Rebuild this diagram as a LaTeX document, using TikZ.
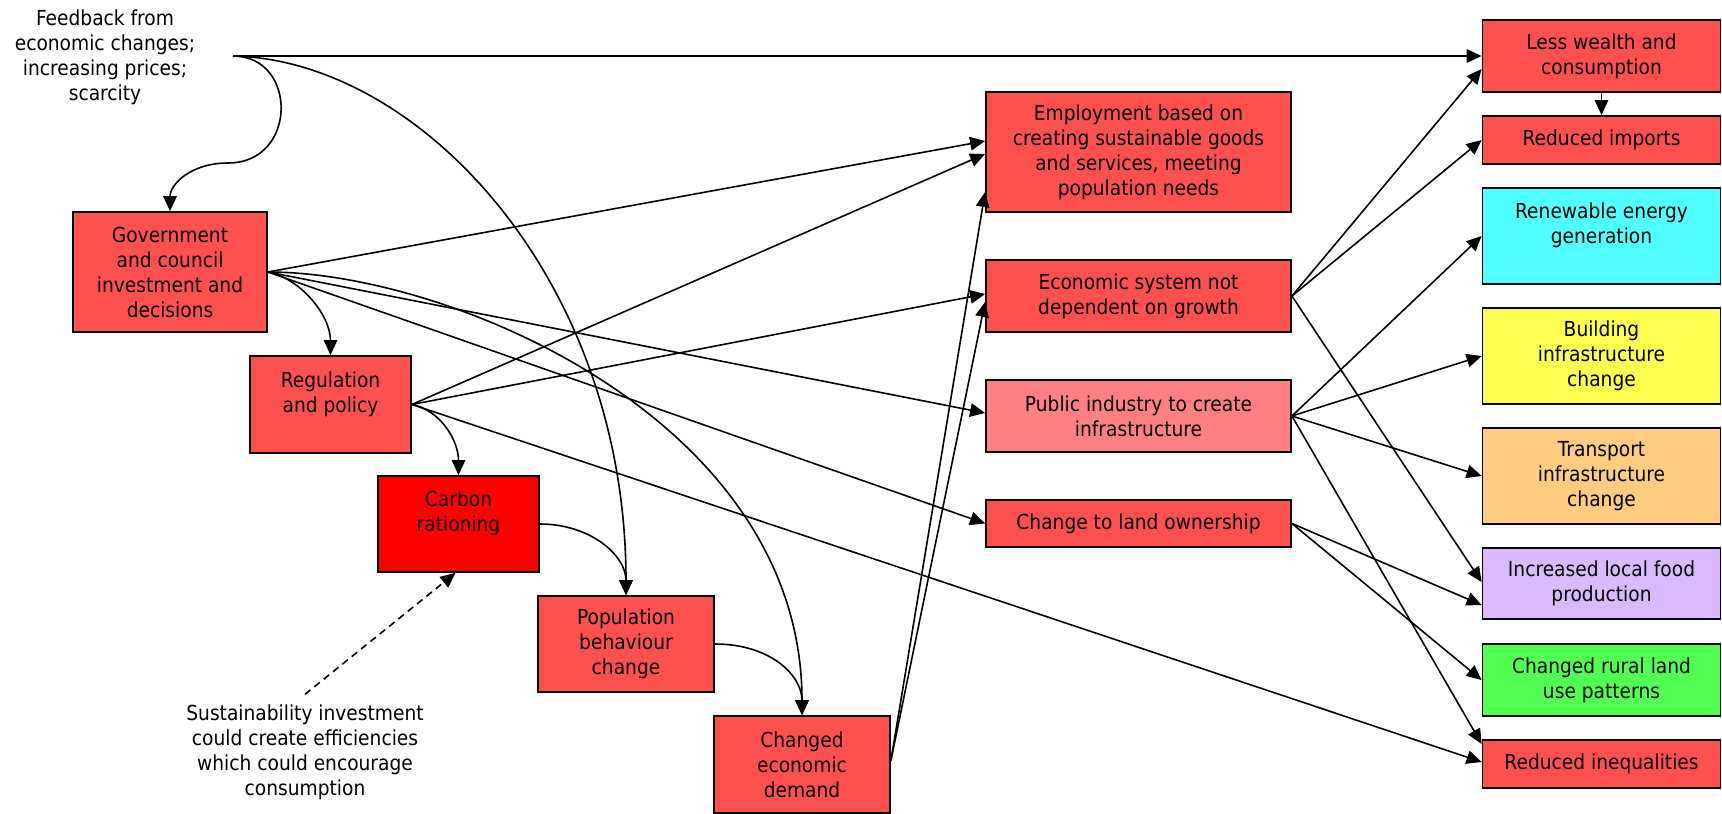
\documentclass[tikz,border=0pt]{standalone}
\usepackage{fontspec}
\setmainfont{DejaVu Sans}[FakeStretch=0.9]
\usetikzlibrary{arrows.meta}
\definecolor{cred}{RGB}{255,80,80}
\definecolor{cdark}{RGB}{255,0,0}
\definecolor{cpink}{RGB}{255,128,128}
\definecolor{ccyan}{RGB}{80,255,255}
\definecolor{cyel}{RGB}{255,255,80}
\definecolor{corange}{RGB}{255,204,128}
\definecolor{cpurple}{RGB}{218,185,255}
\definecolor{cgreen}{RGB}{80,255,80}
\begin{document}
\begin{tikzpicture}[x=1pt,y=-1pt,
  box/.style={draw=black, line width=1.8pt, rectangle, align=center, inner sep=2pt,
    font=\fontsize{20.7}{25}\selectfont},
  txt/.style={align=center, inner sep=2pt, font=\fontsize{20.7}{25}\selectfont},
  arr/.style={line width=1.6pt, -{Triangle[length=15pt,width=13.5pt]}},
  dsh/.style={line width=1.6pt, dash pattern=on 7pt off 5pt, -{Triangle[length=15pt,width=13.5pt]}}]
\useasboundingbox (0,0) rectangle (1722,814);
% left text
\node[txt] (fb) at (105,57.5) {Feedback from\\economic changes;\\increasing prices;\\scarcity};
\coordinate (fbout) at (233,56);
\node[txt] (sust) at (305,752) {Sustainability investment\\could create efficiencies\\which could encourage\\consumption};
% left chain
\node[box, fill=cred, minimum width=194pt, minimum height=120pt] (gov) at (170,272) {Government\\and council\\investment and\\decisions};
\node[box, fill=cred, minimum width=161pt, minimum height=97pt] (reg) at (330.5,404.5) {Regulation\\and policy\\\mbox{}};
\node[box, fill=cdark, minimum width=161pt, minimum height=96pt] (carbon) at (458.5,524) {Carbon\\rationing\\\mbox{}};
\node[box, fill=cred, minimum width=176pt, minimum height=96pt] (pop) at (626,644) {Population\\behaviour\\change};
\node[box, fill=cred, minimum width=176pt, minimum height=97pt] (ced) at (802,764.5) {Changed\\economic\\demand};
% middle column
\node[box, fill=cred, minimum width=305pt, minimum height=120pt] (emp) at (1138.5,152) {Employment based on\\creating sustainable goods\\and services, meeting\\population needs};
\node[box, fill=cred, minimum width=305pt, minimum height=72pt] (econ) at (1138.5,296) {Economic system not\\dependent on growth};
\node[box, fill=cpink, minimum width=305pt, minimum height=72pt] (pub) at (1138.5,416) {Public industry to create\\infrastructure};
\node[box, fill=cred, minimum width=305pt, minimum height=47pt] (land) at (1138.5,523.5) {Change to land ownership};
% right column
\node[box, fill=cred, minimum width=238pt, minimum height=72pt] (lw) at (1601.5,56) {Less wealth and\\consumption};
\node[box, fill=cred, minimum width=238pt, minimum height=48pt] (ri) at (1601.5,140) {Reduced imports};
\node[box, fill=ccyan, minimum width=238pt, minimum height=96pt] (ren) at (1601.5,236) {Renewable energy\\generation\\\mbox{}};
\node[box, fill=cyel, minimum width=238pt, minimum height=96pt] (bld) at (1601.5,356) {Building\\infrastructure\\change};
\node[box, fill=corange, minimum width=238pt, minimum height=96pt] (trn) at (1601.5,476) {Transport\\infrastructure\\change};
\node[box, fill=cpurple, minimum width=238pt, minimum height=71pt] (food) at (1601.5,583.5) {Increased local food\\production};
\node[box, fill=cgreen, minimum width=238pt, minimum height=72pt] (rural) at (1601.5,680) {Changed rural land\\use patterns};
\node[box, fill=cred, minimum width=238pt, minimum height=48pt] (ineq) at (1601.5,764) {Reduced inequalities};
% connectors
\draw[arr] (fbout) -- (lw.west);
\draw[arr] (fbout) .. controls (298,56) and (298,163) .. (228,163) .. controls (190,163) and (170,185) .. (gov.north);
\draw[arr] (fbout) .. controls (420,60) and (626,280) .. (pop.north);
\draw[arr] (gov.east) -- ([yshift=11pt]emp.west);
\draw[arr] (gov.east) .. controls (300,278) and (330.5,315) .. (reg.north);
\draw[arr] (gov.east) .. controls (450,272) and (802,420) .. (ced.north);
\draw[arr] (gov.east) -- ([yshift=3pt]pub.west);
\draw[arr] (gov.east) -- (land.west);
\draw[arr] (reg.east) -- ([yshift=-2pt]emp.west);
\draw[arr] (reg.east) -- ([yshift=2pt]econ.west);
\draw[arr] (reg.east) .. controls (440,410) and (458.5,440) .. (carbon.north);
\draw[arr] (reg.east) -- ([yshift=2pt]ineq.west);
\draw[arr] (carbon.east) .. controls (590,524) and (626,555) .. (pop.north);
\draw[arr] (pop.east) .. controls (770,644) and (802,675) .. (ced.north);
\draw[arr] ([yshift=4pt]ced.east) -- ([yshift=-40pt]emp.west);
\draw[arr] ([yshift=4pt]ced.east) -- ([yshift=-6pt]econ.west);
\draw[arr] (econ.east) -- ([yshift=-13pt]lw.west);
\draw[arr] (econ.east) -- (ri.west);
\draw[arr] (econ.east) -- ([yshift=1.5pt]food.west);
\draw[arr] (pub.east) -- (ren.west);
\draw[arr] (pub.east) -- (bld.west);
\draw[arr] (pub.east) -- (trn.west);
\draw[arr] (pub.east) -- ([yshift=20pt]ineq.west);
\draw[arr] (land.east) -- ([yshift=-21.5pt]food.west);
\draw[arr] (land.east) -- (rural.west);
\draw[arr] (lw.south) -- (ri.north);
\draw[dsh] ([yshift=8pt]sust.north) -- ([xshift=-3pt]carbon.south);
\end{tikzpicture}
\end{document}
